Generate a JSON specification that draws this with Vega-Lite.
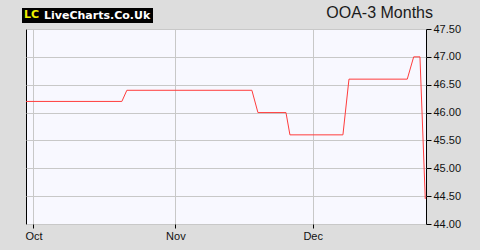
{
  "$schema": "https://vega.github.io/schema/vega-lite/v6.json",
  "width": 400,
  "height": 195,
  "autosize": {"type": "none"},
  "padding": {"left": 26, "top": 29, "right": 54, "bottom": 26},
  "background": "#dddddd",
  "config": {
    "view": {"fill": "#f8f8ff", "stroke": "#000000", "strokeWidth": 1},
    "font": "Liberation Sans"
  },
  "title": {
    "text": "OOA-3 Months",
    "anchor": "end",
    "frame": "group",
    "dx": 7,
    "dy": 20,
    "offset": 7,
    "fontSize": 16,
    "fontWeight": "normal",
    "color": "#1a1a1a",
    "font": "Liberation Sans"
  },
  "data": {
    "values": [
      {"date": "2023-09-29T08:50:00Z", "price": 46.2, "source": "LiveCharts.Co.Uk"},
      {"date": "2023-10-20T07:30:00Z", "price": 46.2, "source": "LiveCharts.Co.Uk"},
      {"date": "2023-10-21T09:40:00Z", "price": 46.4, "source": "LiveCharts.Co.Uk"},
      {"date": "2023-11-17T17:15:00Z", "price": 46.4, "source": "LiveCharts.Co.Uk"},
      {"date": "2023-11-19T01:00:00Z", "price": 46.0, "source": "LiveCharts.Co.Uk"},
      {"date": "2023-11-25T04:00:00Z", "price": 46.0, "source": "LiveCharts.Co.Uk"},
      {"date": "2023-11-26T00:45:00Z", "price": 45.6, "source": "LiveCharts.Co.Uk"},
      {"date": "2023-12-07T14:40:00Z", "price": 45.6, "source": "LiveCharts.Co.Uk"},
      {"date": "2023-12-08T22:20:00Z", "price": 46.6, "source": "LiveCharts.Co.Uk"},
      {"date": "2023-12-21T16:00:00Z", "price": 46.6, "source": "LiveCharts.Co.Uk"},
      {"date": "2023-12-23T01:40:00Z", "price": 47.0, "source": "LiveCharts.Co.Uk"},
      {"date": "2023-12-24T10:35:00Z", "price": 47.0, "source": "LiveCharts.Co.Uk"},
      {"date": "2023-12-25T14:25:00Z", "price": 44.45, "source": "LiveCharts.Co.Uk"}
    ]
  },
  "mark": {"type": "line", "strokeWidth": 1, "interpolate": "linear", "clip": true},
  "encoding": {
    "x": {
      "field": "date",
      "type": "temporal",
      "scale": {
        "domain": [
          {"year": 2023, "month": 9, "date": 29, "hours": 8, "minutes": 50, "utc": true},
          {"year": 2023, "month": 12, "date": 25, "hours": 18, "minutes": 15, "utc": true}
        ],
        "nice": false
      },
      "axis": {
        "title": null,
        "values": [
          {"year": 2023, "month": 10, "date": 1, "utc": true},
          {"year": 2023, "month": 11, "date": 1, "utc": true},
          {"year": 2023, "month": 12, "date": 1, "utc": true}
        ],
        "format": "%b",
        "labelFontSize": 11,
        "labelColor": "#111111",
        "labelPadding": 2,
        "tickSize": 4,
        "tickColor": "#000000",
        "domain": false,
        "grid": true,
        "gridColor": "#c8c8c8",
        "labelFlush": false
      }
    },
    "y": {
      "field": "price",
      "type": "quantitative",
      "scale": {"domain": [44, 47.5], "zero": false, "nice": false},
      "axis": {
        "title": null,
        "orient": "right",
        "values": [44, 44.5, 45, 45.5, 46, 46.5, 47, 47.5],
        "format": ".2f",
        "labelFontSize": 11,
        "labelColor": "#111111",
        "labelPadding": 2,
        "tickSize": 5,
        "tickColor": "#000000",
        "domain": false,
        "grid": true,
        "gridColor": "#c8c8c8",
        "labelFlush": false
      }
    },
    "color": {
      "field": "source",
      "type": "nominal",
      "scale": {"range": ["#ff3c3c"]},
      "legend": {
        "orient": "none",
        "legendX": -4,
        "legendY": -21,
        "title": "LC",
        "titleOrient": "left",
        "titleColor": "#f0f000",
        "titleFont": "DejaVu Sans",
        "titleFontSize": 11,
        "titleFontWeight": "bold",
        "titlePadding": 3,
        "labelFont": "DejaVu Sans",
        "labelFontSize": 11,
        "labelFontWeight": "bold",
        "labelColor": "#ffffff",
        "labelOffset": -10,
        "symbolSize": 0,
        "symbolOpacity": 0,
        "symbolStrokeWidth": 0,
        "fillColor": "#000000",
        "padding": 2,
        "cornerRadius": 0
      }
    }
  }
}
